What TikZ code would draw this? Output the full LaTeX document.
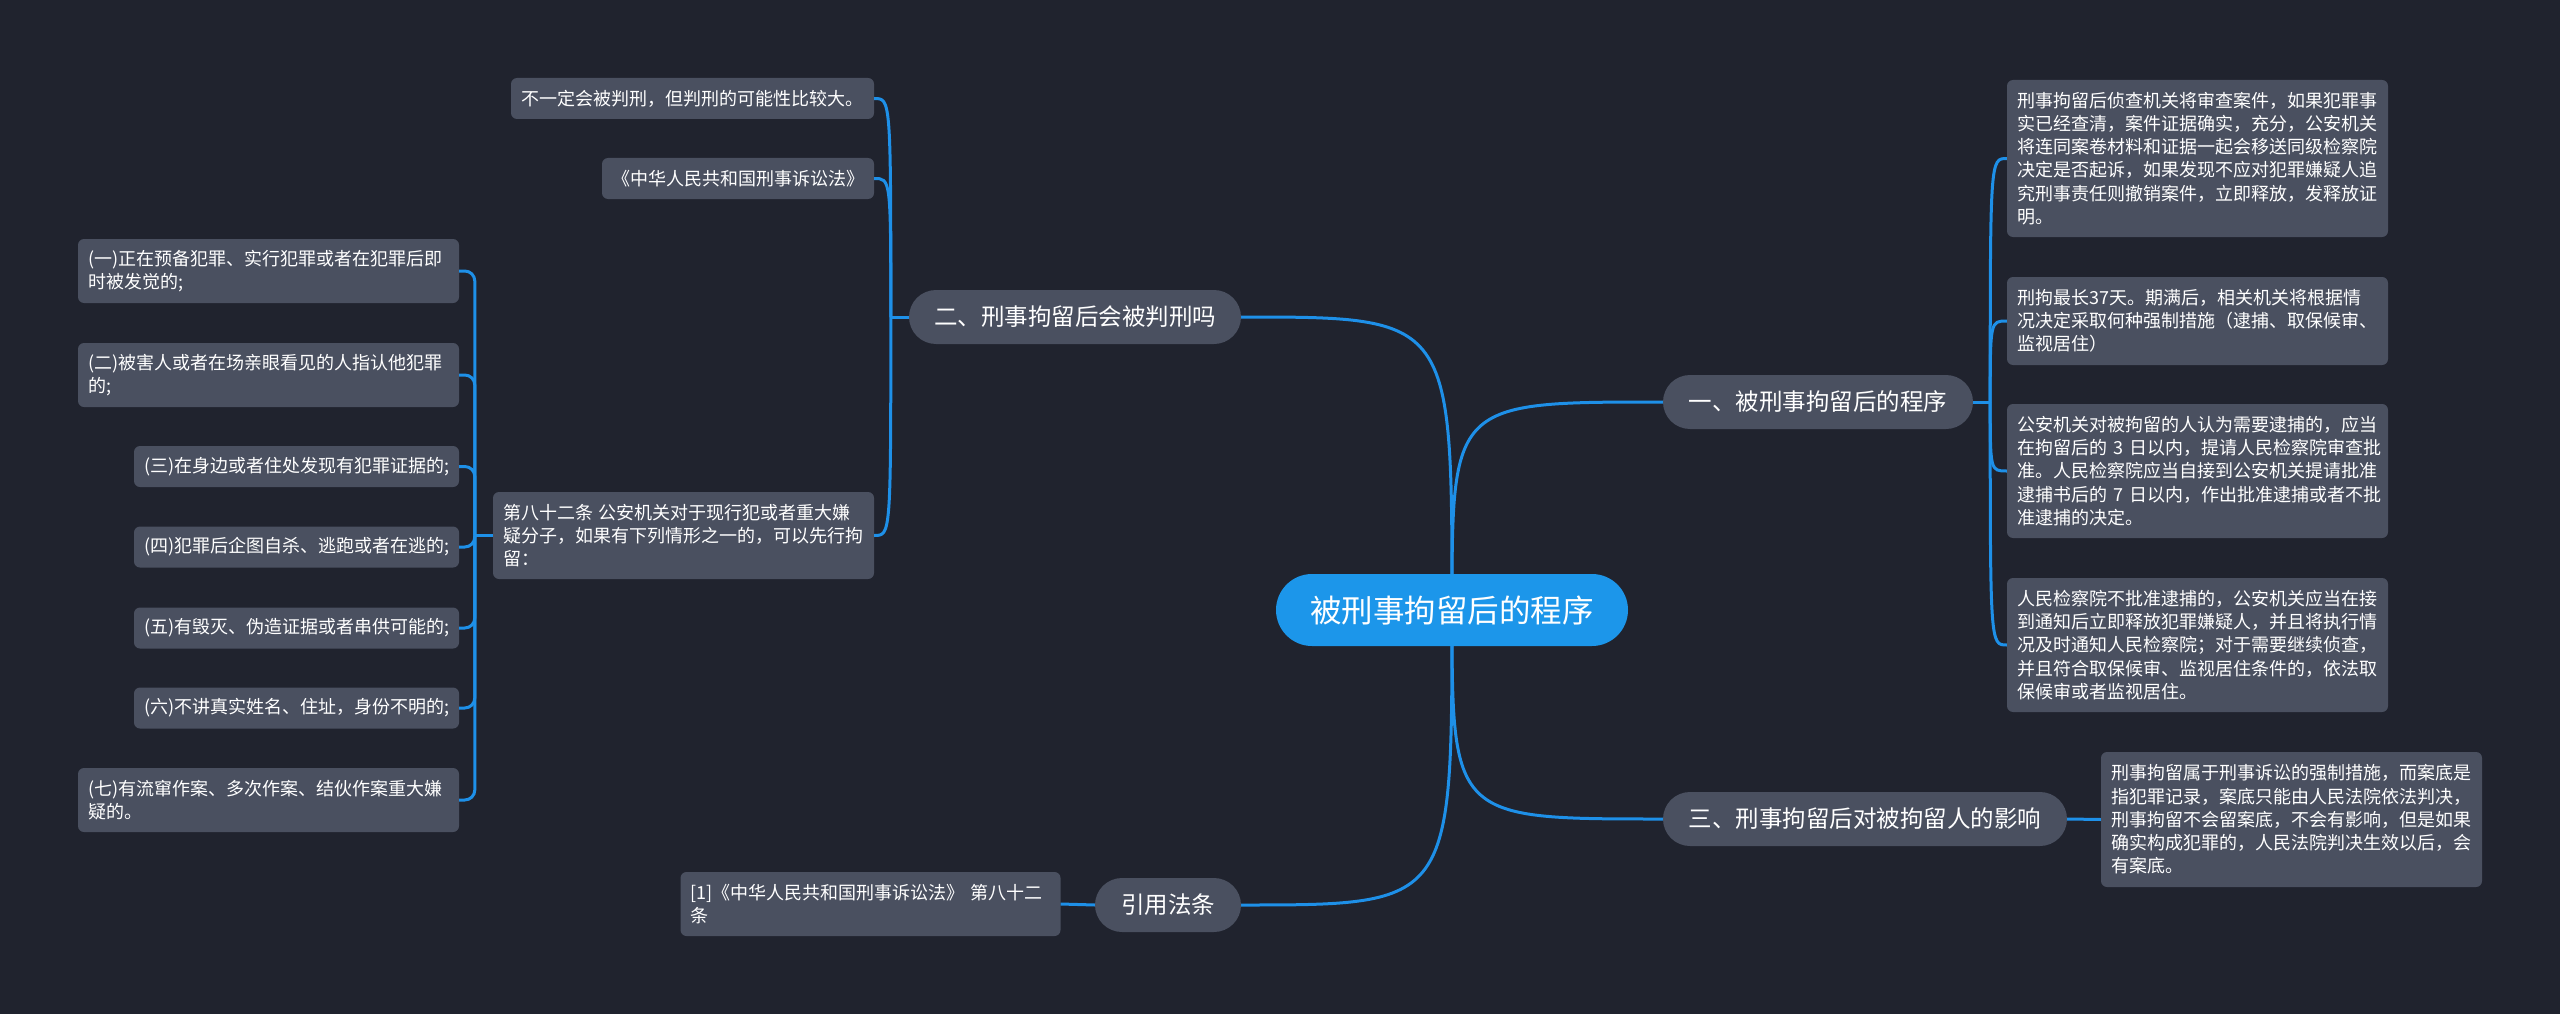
\documentclass[tikz,border=0pt]{standalone}
\usepackage{fontspec}
\setmainfont{Noto Sans CJK SC}
\definecolor{bgnavy}{RGB}{32,35,46}
\definecolor{boxgray}{RGB}{74,80,96}
\definecolor{rootblue}{RGB}{28,150,234}
\definecolor{linkblue}{RGB}{30,144,232}
\pgfdeclarelayer{canvas}
\pgfdeclarelayer{back}
\pgfsetlayers{canvas,back,main}
\begin{document}
\begin{tikzpicture}[x=1pt, y=-1pt,
  link/.style={draw=linkblue, line width=3pt},
  topic/.style={fill=rootblue, text=white, rounded corners=36pt, minimum height=72pt, font=\fontsize{31.5}{36}\selectfont},
  branch/.style={fill=boxgray, text=white, rounded corners=27pt, minimum height=54pt, font=\fontsize{23.5}{28}\selectfont},
  leaf/.style={fill=boxgray, text=white, rounded corners=6pt, inner xsep=10pt, inner ysep=0pt, align=left, font=\fontsize{18}{23.3}\selectfont}]
  \begin{pgfonlayer}{canvas}
    \fill[bgnavy] (0,0) rectangle (2560,1014);
  \end{pgfonlayer}
  \useasboundingbox (0,0) rectangle (2560,1014);

  \node[topic, minimum width=352pt] (root) at (1452,610) {被刑事拘留后的程序};
  \node[branch, minimum width=310pt] (b1) at (1818,402) {一、被刑事拘留后的程序};
  \node[branch, minimum width=332pt] (b2) at (1075,317) {二、刑事拘留后会被判刑吗};
  \node[branch, minimum width=404pt] (b3) at (1865,819) {三、刑事拘留后对被拘留人的影响};
  \node[branch, minimum width=146pt] (b4) at (1168,905) {引用法条};

  \node[leaf, text width=361pt, minimum height=157pt] (r1) at (2197.5,158.5) {刑事拘留后侦查机关将审查案件，如果犯罪事\\实已经查清，案件证据确实，充分，公安机关\\将连同案卷材料和证据一起会移送同级检察院\\决定是否起诉，如果发现不应对犯罪嫌疑人追\\究刑事责任则撤销案件，立即释放，发释放证\\明。};
  \node[leaf, text width=361pt, minimum height=88pt] (r2) at (2197.5,321) {刑拘最长37天。期满后，相关机关将根据情\\况决定采取何种强制措施（逮捕、取保候审、\\监视居住）};
  \node[leaf, text width=361pt, minimum height=134pt] (r3) at (2197.5,471) {公安机关对被拘留的人认为需要逮捕的，应当\\在拘留后的~3~日以内，提请人民检察院审查批\\准。人民检察院应当自接到公安机关提请批准\\逮捕书后的~7~日以内，作出批准逮捕或者不批\\准逮捕的决定。};
  \node[leaf, text width=361pt, minimum height=134pt] (r4) at (2197.5,645) {人民检察院不批准逮捕的，公安机关应当在接\\到通知后立即释放犯罪嫌疑人，并且将执行情\\况及时通知人民检察院；对于需要继续侦查，\\并且符合取保候审、监视居住条件的，依法取\\保候审或者监视居住。};
  \node[leaf, text width=361pt, minimum height=135pt] (r5) at (2291.5,819.5) {刑事拘留属于刑事诉讼的强制措施，而案底是\\指犯罪记录，案底只能由人民法院依法判决，\\刑事拘留不会留案底，不会有影响，但是如果\\确实构成犯罪的，人民法院判决生效以后，会\\有案底。};

  \node[leaf, text width=343pt, minimum height=41pt] (l1) at (692.5,98.5) {不一定会被判刑，但判刑的可能性比较大。};
  \node[leaf, text width=252pt, minimum height=41pt, align=right] (l2) at (738,178.5) {《中华人民共和国刑事诉讼法》};
  \node[leaf, text width=361pt, minimum height=87pt] (l3) at (683.5,535.5) {第八十二条~公安机关对于现行犯或者重大嫌\\疑分子，如果有下列情形之一的，可以先行拘\\留：};
  \node[leaf, text width=360pt, minimum height=64pt] (l4) at (870.5,904) {[1]《中华人民共和国刑事诉讼法》~第八十二\\条};

  \node[leaf, text width=361pt, minimum height=64pt] (s1) at (268.5,271) {(一)正在预备犯罪、实行犯罪或者在犯罪后即\\时被发觉的;};
  \node[leaf, text width=361pt, minimum height=64pt] (s2) at (268.5,375) {(二)被害人或者在场亲眼看见的人指认他犯罪\\的;};
  \node[leaf, text width=305pt, minimum height=41pt] (s3) at (296.5,466.5) {(三)在身边或者住处发现有犯罪证据的;};
  \node[leaf, text width=305pt, minimum height=41pt] (s4) at (296.5,547) {(四)犯罪后企图自杀、逃跑或者在逃的;};
  \node[leaf, text width=305pt, minimum height=41pt] (s5) at (296.5,628) {(五)有毁灭、伪造证据或者串供可能的;};
  \node[leaf, text width=305pt, minimum height=41pt] (s6) at (296.5,708) {(六)不讲真实姓名、住址，身份不明的;};
  \node[leaf, text width=361pt, minimum height=64pt] (s7) at (268.5,800) {(七)有流窜作案、多次作案、结伙作案重大嫌\\疑的。};

  \coordinate (b1j) at ([xshift=17pt]b1.east);
  \coordinate (b2j) at ([xshift=-18pt]b2.west);
  \coordinate (l3j) at ([xshift=-18pt]l3.west);

  \begin{pgfonlayer}{back}
    \foreach \b in {b1,b3} \draw[link] (root.center) .. controls (root.center |- \b.west) .. (\b.west);
    \foreach \b in {b2,b4} \draw[link] (root.center) .. controls (root.center |- \b.east) .. (\b.east);
  \end{pgfonlayer}

  \draw[link] (b1.east) -- (b1j);
  \foreach \n in {r1,r2,r3,r4} \draw[link] (b1j) .. controls (b1j |- \n.west) .. (\n.west);
  \draw[link] (b3.east) -- (r5.west);

  \draw[link] (b2.west) -- (b2j);
  \foreach \n in {l1,l2,l3} \draw[link] (b2j) .. controls (b2j |- \n.east) .. (\n.east);
  \draw[link] (b4.west) -- (l4.east);

  \draw[link] (l3.west) -- (l3j);
  \foreach \n in {s1,s2,s3,s4,s5,s6,s7} \draw[link, rounded corners=10pt] (l3j) -- (l3j |- \n.east) -- (\n.east);
\end{tikzpicture}
\end{document}
